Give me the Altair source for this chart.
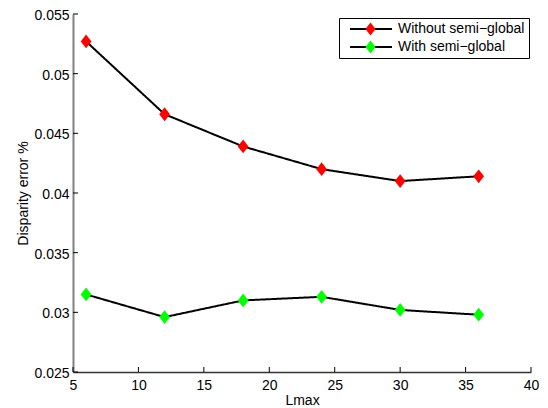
import altair as alt
import pandas as pd

lmax = [6, 12, 18, 24, 30, 36]
without_sg = [0.0527, 0.0466, 0.0439, 0.0420, 0.0410, 0.0414]
with_sg = [0.0315, 0.0296, 0.0310, 0.0313, 0.0302, 0.0298]
series_names = ["Without semi\u2212global", "With semi\u2212global"]
series_colors = ["#ff0000", "#00ff00"]
x_ticks = [5, 10, 15, 20, 25, 30, 35, 40]
y_ticks = [0.025, 0.03, 0.035, 0.04, 0.045, 0.05, 0.055]

rows = []
for name, vals in zip(series_names, [without_sg, with_sg]):
    for xv, v in zip(lmax, vals):
        rows.append({"Lmax": xv, "err": v, "series": name, "series_fill": name})
df = pd.DataFrame(rows)
xt = pd.DataFrame({"t": x_ticks})
yt = pd.DataFrame({"t": y_ticks})

W, H = 458, 358
FONT = "Liberation Sans"
FS = 14
DIAMOND = "M0,-1L0.78,0L0,1L-0.78,0Z"

xscale = alt.Scale(domain=[5, 40], nice=False, zero=False)
yscale = alt.Scale(domain=[0.025, 0.055], nice=False, zero=False)

xaxis = alt.Axis(title="Lmax", values=x_ticks, tickSize=0, labelPadding=6, grid=False,
                 domainColor="#333333", domainWidth=1.5, labelFont=FONT, labelFontSize=FS,
                 labelColor="black", titleFont=FONT, titleFontSize=FS, titleFontWeight="normal",
                 titleColor="black", titlePadding=1, labelFlush=False)
yaxis = alt.Axis(title="Disparity error %", values=y_ticks, format="~g", tickSize=0,
                 labelPadding=4, labelOffset=1.5, grid=False, domainColor="#808080",
                 domainWidth=2, labelFont=FONT, labelFontSize=FS, labelColor="black",
                 titleFont=FONT, titleFontSize=FS, titleFontWeight="normal",
                 titleColor="black", titlePadding=3, labelFlush=False)

X = alt.X("Lmax:Q", scale=xscale, axis=xaxis)
Y = alt.Y("err:Q", scale=yscale, axis=yaxis)

lines = alt.Chart(df).mark_line(color="black", strokeWidth=2).encode(
    x=X, y=Y,
    strokeDash=alt.StrokeDash(
        "series:N",
        scale=alt.Scale(domain=series_names, range=[[1, 0], [1, 0]]),
        legend=alt.Legend(title=None, orient="none", legendX=266, legendY=4, padding=4,
                          strokeColor="black", symbolType="M-4.2,0L4.2,0", symbolSize=100,
                          symbolStrokeWidth=2, symbolStrokeColor="black", symbolOffset=21,
                          labelOffset=20, labelFont=FONT, labelFontSize=FS, labelColor="black",
                          rowPadding=4, labelLimit=400),
    ),
)

points = alt.Chart(df).mark_point(shape=DIAMOND, size=190, filled=True, opacity=1).encode(
    x=X, y=Y,
    fill=alt.Fill(
        "series_fill:N",
        sort=series_names,
        scale=alt.Scale(range=series_colors),
        legend=alt.Legend(title=None, orient="none", legendX=266, legendY=4, padding=4,
                          symbolType=DIAMOND, symbolSize=169, symbolStrokeWidth=0,
                          symbolOpacity=1, symbolOffset=20.5, labelExpr="''",
                          labelFont=FONT, labelFontSize=FS, rowPadding=4, labelLimit=400),
    ),
)

xticks = alt.Chart(xt).mark_rule(color="black", strokeWidth=1).encode(
    x=alt.X("t:Q", scale=xscale, axis=xaxis), y=alt.value(H), y2=alt.value(H - 5)
)
yticks = alt.Chart(yt).mark_rule(color="black", strokeWidth=1).encode(
    y=alt.Y("t:Q", scale=yscale, axis=yaxis), x=alt.value(0), x2=alt.value(5)
)

chart = alt.layer(xticks, yticks, lines, points).properties(
    width=W, height=H,
    autosize=alt.AutoSizeParams(type="none"),
    padding={"left": 65, "top": 6, "right": 9, "bottom": 36},
    background="white",
).configure_view(stroke=None)

chart.save("out.html", embed_options={"renderer": "svg", "actions": False})
